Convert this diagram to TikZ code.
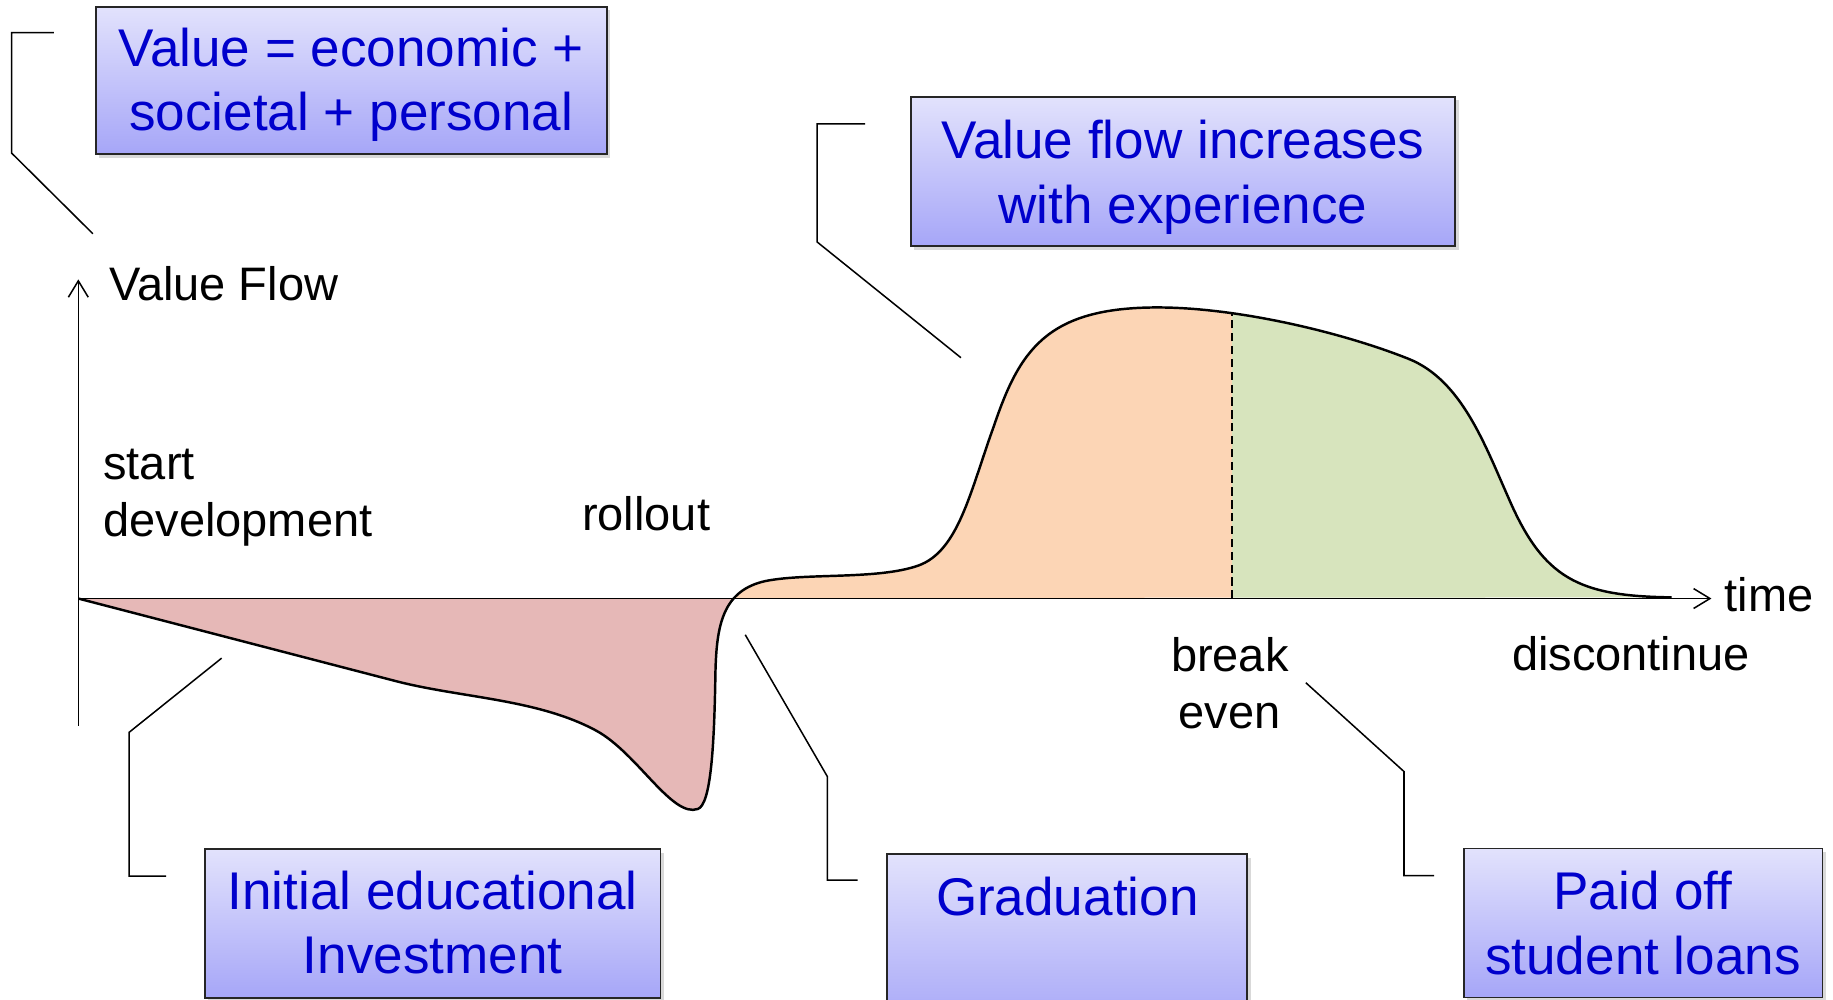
\documentclass[tikz,border=0pt]{standalone}
\usepackage{fontspec}
\setmainfont{Liberation Sans}
\usetikzlibrary{arrows.meta,shadows}
\definecolor{boxtop}{RGB}{226,226,252}
\definecolor{boxbot}{RGB}{166,166,248}
\definecolor{boxtext}{RGB}{0,0,204}
\definecolor{lossfill}{RGB}{230,184,183}
\definecolor{gainfill}{RGB}{252,213,181}
\definecolor{profitfill}{RGB}{215,228,189}
\begin{document}
\begin{tikzpicture}[x=0.5pt, y=-0.5pt,
  bluebox/.style={draw=black!85, line width=0.8pt, top color=boxtop, bottom color=boxbot,
    text=boxtext, font=\fontsize{22.7}{27.5}\selectfont, align=center, inner sep=0pt,
    anchor=north,
    drop shadow={opacity=0.3, shadow xshift=1.5pt, shadow yshift=-1.5pt}},
  axistext/.style={font=\fontsize{20.1}{24.3}\selectfont, inner sep=0pt, text=black},
  callout/.style={line width=0.65pt, black},
  axisline/.style={line width=0.65pt, -{Straight Barb[length=7pt, width=8.5pt]}},
  curveline/.style={line width=1.05pt, black},
  splitline/.style={line width=0.6pt, dash pattern=on 3.5pt off 2pt},
  valuecurve/.style={insert path={(67,512) -- (340,583)
    .. controls (395,597) and (460,598) .. (510,625)
    .. controls (545,644) and (575,700) .. (597,692)
    .. controls (608,688) and (611,640) .. (612,575)
    .. controls (613,535) and (618,505) .. (655,497)
    .. controls (690,490) and (750,496) .. (785,484)
    .. controls (820,472) and (830,420) .. (850,365)
    .. controls (872,300) and (895,263) .. (990,263)
    .. controls (1060,263) and (1150,285) .. (1205,307)
    .. controls (1250,325) and (1270,380) .. (1290,425)
    .. controls (1320,495) and (1350,510) .. (1430,511)}}
]
\useasboundingbox (0,0) rectangle (1568,855);

% key points of the chart
\coordinate (origin) at (67,512);
\coordinate (ybottom) at (67,621);
\coordinate (ytip) at (67,239);
\coordinate (xtip) at (1464,512);
\coordinate (evenbase) at (1054,512);
\coordinate (evenpeak) at (1054,267.5);

% shaded areas under the value curve
\begin{scope}
  \clip (60,480) rectangle (628,720);
  \fill[lossfill, valuecurve] -- cycle;
\end{scope}
\begin{scope}
  \clip (628,240) rectangle (1054,520);
  \fill[gainfill, valuecurve] -- cycle;
\end{scope}
\begin{scope}
  \clip (1054,240) rectangle (1440,520);
  \fill[profitfill, valuecurve] -- cycle;
\end{scope}

% break-even divider
\draw[splitline] (evenbase) -- (evenpeak);

% axes
\draw[axisline] (ybottom) -- (ytip);
\draw[axisline] (origin) -- (xtip);

% value curve
\draw[curveline, valuecurve];

% axis and phase labels (base anchor sits on the last line)
\node[axistext, anchor=base west] (vflow) at (93,257) {Value Flow};
\node[axistext, anchor=base west, align=left] (start) at (88,459) {start\\development};
\node[axistext, anchor=base west] (rollout) at (497.6,453.4) {rollout};
\node[axistext, anchor=base west] (time) at (1475,523.3) {time};
\node[axistext, anchor=base, align=center] (breakeven) at (1052,623) {break\\even};
\node[axistext, anchor=base west] (discont) at (1293,573.7) {discontinue};

% callout boxes: text height/depth measured from the last baseline
\node[bluebox, minimum width=218.5pt, text height=53pt, text depth=10pt] (valuebox) at (300.5,5)
  {Value = economic +\\societal + personal};
\node[bluebox, minimum width=233pt, text height=54pt, text depth=10pt] (flowbox) at (1012,82)
  {Value flow increases\\with experience};
\node[bluebox, minimum width=195pt, text height=53.2pt, text depth=10.5pt] (investbox) at (370,725.6)
  {Initial educational\\Investment};
\node[bluebox, minimum width=154pt, text height=26pt, text depth=49pt] (gradbox) at (913,730)
  {Graduation};
\node[bluebox, minimum width=153.5pt, text height=53.75pt, text depth=10pt] (loanbox) at (1405.5,725)
  {Paid off\\student loans};

% callout leader lines
\coordinate (c1a) at (46,28);   \coordinate (c1b) at (10,28);
\coordinate (c1c) at (10,131);  \coordinate (c1d) at (79.5,200);
\draw[callout] (c1a) -- (c1b) -- (c1c) -- (c1d);

\coordinate (c2a) at (740,106); \coordinate (c2b) at (699,106);
\coordinate (c2c) at (699,207); \coordinate (c2d) at (822,306);
\draw[callout] (c2a) -- (c2b) -- (c2c) -- (c2d);

\coordinate (c3a) at (189.6,563); \coordinate (c3b) at (110.4,626.5);
\coordinate (c3c) at (110.4,749.5); \coordinate (c3d) at (142,749.5);
\draw[callout] (c3a) -- (c3b) -- (c3c) -- (c3d);

\coordinate (c4a) at (637.5,543); \coordinate (c4b) at (707.8,664.4);
\coordinate (c4c) at (707.8,752.8); \coordinate (c4d) at (733.7,752.8);
\draw[callout] (c4a) -- (c4b) -- (c4c) -- (c4d);

\coordinate (c5a) at (1117,584); \coordinate (c5b) at (1201,660);
\coordinate (c5c) at (1201,749); \coordinate (c5d) at (1226.7,749);
\draw[callout] (c5a) -- (c5b) -- (c5c) -- (c5d);
\end{tikzpicture}
\end{document}
